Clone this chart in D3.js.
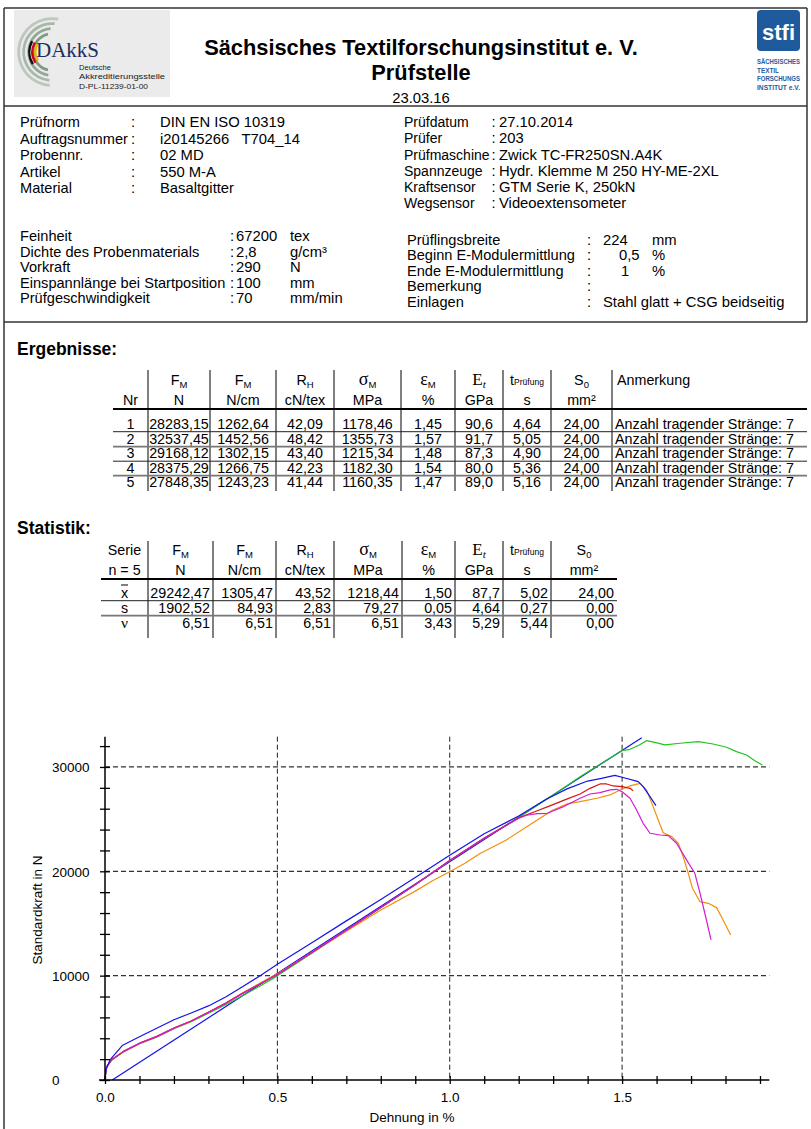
<!DOCTYPE html>
<html><head><meta charset="utf-8">
<script src="https://cdn.jsdelivr.net/npm/d3@7"></script>
<style>
body{margin:0;background:#fff}
svg{display:block}
text{font-family:"Liberation Sans",Arial,Helvetica,sans-serif;fill:#000}
</style>
</head><body>
<svg id="c" width="811" height="1129"></svg>
<script>
// ---------------- DATA ----------------
const infoLeft1Labels = ["Prüfnorm","Auftragsnummer","Probennr.","Artikel","Material"];
const infoLeft1Values = ["DIN EN ISO 10319","i20145266\u00a0\u00a0\u00a0T704_14","02 MD","550 M-A","Basaltgitter"];
const infoLeft2Labels = ["Feinheit","Dichte des Probenmaterials","Vorkraft","Einspannlänge bei Startposition","Prüfgeschwindigkeit"];
const infoLeft2Values = ["67200","2,8","290","100","70"];
const infoLeft2Units = ["tex","g/cm³","N","mm","mm/min"];
const infoRight1Labels = ["Prüfdatum","Prüfer","Prüfmaschine","Spannzeuge","Kraftsensor","Wegsensor"];
const infoRight1Values = ["27.10.2014","203","Zwick TC-FR250SN.A4K","Hydr. Klemme M 250 HY-ME-2XL","GTM Serie K, 250kN","Videoextensometer"];
const infoRight2Labels = ["Prüflingsbreite","Beginn E-Modulermittlung","Ende E-Modulermittlung","Bemerkung","Einlagen"];
const infoRight2Values = ["224","0,5","1","","Stahl glatt + CSG beidseitig"];
const infoRight2Units = ["mm","%","%","",""];

// Results table
const resHeadMain = ["","F","F","R","σ","ε","E","t","S",""];
const resHeadSub  = ["","M","M","H","M","M","t","Prüfung","0",""];
const resUnits    = ["Nr","N","N/cm","cN/tex","MPa","%","GPa","s","mm²",""];
const resNr     = ["1","2","3","4","5"];
const resFmN    = ["28283,15","32537,45","29168,12","28375,29","27848,35"];
const resFmNcm  = ["1262,64","1452,56","1302,15","1266,75","1243,23"];
const resRh     = ["42,09","48,42","43,40","42,23","41,44"];
const resSigma  = ["1178,46","1355,73","1215,34","1182,30","1160,35"];
const resEps    = ["1,45","1,57","1,48","1,54","1,47"];
const resE      = ["90,6","91,7","87,3","80,0","89,0"];
const resT      = ["4,64","5,05","4,90","5,36","5,16"];
const resS0     = ["24,00","24,00","24,00","24,00","24,00"];
const resNote   = ["Anzahl tragender Stränge: 7","Anzahl tragender Stränge: 7","Anzahl tragender Stränge: 7","Anzahl tragender Stränge: 7","Anzahl tragender Stränge: 7"];

// Statistics table
const statUnits  = ["n = 5","N","N/cm","cN/tex","MPa","%","GPa","s","mm²"];
const statLabels = ["x","s","ν"];
const statFmN    = ["29242,47","1902,52","6,51"];
const statFmNcm  = ["1305,47","84,93","6,51"];
const statRh     = ["43,52","2,83","6,51"];
const statSigma  = ["1218,44","79,27","6,51"];
const statEps    = ["1,50","0,05","3,43"];
const statE      = ["87,7","4,64","5,29"];
const statT      = ["5,02","0,27","5,44"];
const statS0     = ["24,00","0,00","0,00"];

// Chart ticks
const xTickValues = [0,0.1,0.2,0.3,0.4,0.5,0.6,0.7,0.8,0.9,1.0,1.1,1.2,1.3,1.4,1.5,1.6,1.7,1.8,1.9];
const xTickLabels = ["0.0","","","","","0.5","","","","","1.0","","","","","1.5","","","",""];
const yTickValues = [0,2000,4000,6000,8000,10000,12000,14000,16000,18000,20000,22000,24000,26000,28000,30000,32000];
const yTickLabels = ["0","","","","","10000","","","","","20000","","","","","30000",""];
const xGrid = [0.5,1.0,1.5];
const yGrid = [10000,20000,30000];

// Curves (strain in %, force in N)
const redStrain = [0,0.002,0.005,0.019,0.053,0.1,0.15,0.2,0.25,0.3,0.35,0.4,0.45,0.5,0.6,0.7,0.8,0.9,1.0,1.1,1.2,1.25,1.283,1.343,1.378,1.407,1.436,1.455,1.474,1.5,1.523,1.532];
const redForce  = [0,720,1290,1940,2740,3530,4180,4990,5660,6500,7380,8330,9200,10120,12230,14380,16540,18740,21040,23180,25120,25750,26170,26970,27410,27950,28370,28370,28180,28110,27950,27730];

const greenStrain = [0,0.002,0.005,0.019,0.053,0.1,0.15,0.2,0.25,0.3,0.35,0.4,0.45,0.5,0.6,0.7,0.8,0.9,1.0,1.1,1.2,1.25,1.3,1.378,1.45,1.5,1.523,1.55,1.571,1.595,1.624,1.668,1.721,1.764,1.803,1.832,1.861,1.885,1.907];
const greenForce  = [0,680,1250,1890,2690,3480,4110,4920,5580,6400,7220,8100,9000,9980,12150,14330,16500,18720,21000,23150,25150,26250,27320,29070,30550,31560,31690,32100,32520,32350,32110,32270,32430,32200,31890,31470,31150,30600,30190];

const blueStrain = [0,0.003,0.0145,0.05,0.1,0.15,0.2,0.25,0.3,0.35,0.4,0.45,0.5,0.6,0.7,0.8,0.9,1.0,1.1,1.2,1.28,1.34,1.4,1.44,1.479,1.5,1.547,1.561,1.581,1.598];
const blueForce  = [0,1000,1920,3300,4150,4955,5780,6420,7100,7950,8950,10000,11100,13150,15250,17300,19400,21550,23600,25300,26900,27900,28650,28900,29200,29010,28600,28120,27160,26290];

const orangeStrain = [0,0.002,0.005,0.019,0.053,0.1,0.15,0.2,0.25,0.3,0.35,0.4,0.45,0.5,0.6,0.7,0.8,0.9,0.95,1.0,1.043,1.088,1.163,1.238,1.298,1.343,1.378,1.427,1.465,1.494,1.523,1.552,1.571,1.59,1.605,1.619,1.644,1.663,1.677,1.692,1.704,1.726,1.75,1.774,1.793,1.815];
const orangeForce  = [0,700,1270,1910,2700,3500,4150,4960,5640,6480,7360,8350,9300,10180,12200,14250,16300,18100,19100,19950,20750,21700,22980,24580,25850,26490,26680,27000,27320,27800,28180,28430,27800,26200,24920,23700,23320,22690,21410,19810,18380,17090,16930,16520,15340,13900];

const magentaStrain = [0,0.002,0.005,0.019,0.053,0.1,0.15,0.2,0.25,0.3,0.35,0.4,0.45,0.5,0.6,0.7,0.8,0.9,1.0,1.1,1.2,1.223,1.253,1.283,1.328,1.378,1.407,1.436,1.465,1.484,1.5,1.523,1.542,1.561,1.581,1.61,1.634,1.658,1.687,1.711,1.726,1.74,1.758];
const magentaForce  = [0,710,1280,1925,2720,3510,4160,4975,5650,6480,7340,8300,9220,10110,12210,14360,16520,18720,21030,23160,25080,25370,25530,25560,26170,27000,27410,27540,27800,27860,27630,27000,25880,24600,23650,23480,23420,22690,21090,19810,17900,15980,13420];

const modLineStrain = [0.021,1.557];
const modLineForce  = [0,32810];

// ---------------- DRAW ----------------
const svg = d3.select("#c");
const frameCol = "#333";
function hline(x1,x2,yy,col,w){ svg.append("line").attr("x1",x1).attr("x2",x2).attr("y1",yy).attr("y2",yy).attr("stroke",col).attr("stroke-width",w); }
function vline(xx,y1,y2,col,w){ svg.append("line").attr("x1",xx).attr("x2",xx).attr("y1",y1).attr("y2",y2).attr("stroke",col).attr("stroke-width",w); }

hline(4,807,8,frameCol,1.5);
hline(4,807,106,frameCol,1.5);
hline(4,807,322,frameCol,1.5);
vline(4,8,1129,frameCol,1.5);
vline(807,8,322,frameCol,1.5);

// DAkkS logo
const lg = svg.append("g");
lg.append("rect").attr("x",14).attr("y",10).attr("width",156).attr("height",87).attr("fill","#ebebeb");
const arc = d3.arc();
[[17,"#7f9a84",-0.93,-0.07],[22,"#93a897",-0.95,-0.02],[27,"#a7b7aa",-0.97,0.03],[32,"#bcc8be",-0.98,0.06]].forEach(([r,c,a0,a1])=>{
  lg.append("path").attr("transform","translate(52,52)")
    .attr("d",arc({innerRadius:r,outerRadius:r+2.8,startAngle:Math.PI*a0,endAngle:Math.PI*a1}))
    .attr("fill",c);
});
[["#111",0],["#d0021b",1],["#f0b400",2]].forEach(([c,i])=>{
  lg.append("path").attr("transform","translate(52,52)")
    .attr("d",arc({innerRadius:21.5-i*3,outerRadius:23.8-i*3,startAngle:-Math.PI*0.68,endAngle:-Math.PI*0.34}))
    .attr("fill",c);
});
lg.append("text").attr("x",36).attr("y",57).attr("font-size",21)
  .style("font-family","'Liberation Serif','DejaVu Serif',serif").style("fill","#1f2d5c").text("DAkkS");
lg.append("text").attr("x",79).attr("y",69.5).attr("font-size",8).attr("textLength",32).attr("lengthAdjust","spacingAndGlyphs").style("fill","#222").text("Deutsche");
lg.append("text").attr("x",79).attr("y",79).attr("font-size",8).attr("textLength",86).attr("lengthAdjust","spacingAndGlyphs").style("fill","#222").text("Akkreditierungsstelle");
lg.append("text").attr("x",79).attr("y",88.5).attr("font-size",8).attr("textLength",69).attr("lengthAdjust","spacingAndGlyphs").style("fill","#222").text("D-PL-11239-01-00");

// stfi logo
const sg = svg.append("g");
sg.append("rect").attr("x",757).attr("y",10).attr("width",43).attr("height",41).attr("rx",4).attr("fill","#1f5a9c");
sg.append("text").attr("x",778.5).attr("y",40).attr("text-anchor","middle").attr("font-size",22).attr("font-weight","bold").style("fill","#fff").text("stfi");
[["SÄCHSISCHES",43],["TEXTIL",22],["FORSCHUNGS",43],["INSTITUT e.V.",43]].forEach(([t,w],i)=>{
  sg.append("text").attr("x",757).attr("y",64+i*8.6).attr("font-size",7.4).attr("font-weight","bold")
    .attr("textLength",w).attr("lengthAdjust","spacingAndGlyphs").style("fill","#1f5a9c").text(t);
});

// Header titles
svg.append("text").attr("x",421).attr("y",55).attr("text-anchor","middle").attr("font-size",21.8).attr("font-weight","bold").text("Sächsisches Textilforschungsinstitut e. V.");
svg.append("text").attr("x",421).attr("y",80).attr("text-anchor","middle").attr("font-size",21.8).attr("font-weight","bold").text("Prüfstelle");
svg.append("text").attr("x",421).attr("y",102.5).attr("text-anchor","middle").attr("font-size",14.8).text("23.03.16");

// Info blocks
function infoBlock(labels, values, units, xL, xC, xV, xU, ys, fsL, fsV){
  labels.forEach((l,i)=>{
    const yy = ys[i];
    svg.append("text").attr("x",xL).attr("y",yy).attr("font-size",fsL).text(l);
    svg.append("text").attr("x",xC).attr("y",yy).attr("font-size",fsV).text(":");
    if(values[i]!=="") svg.append("text").attr("x",Array.isArray(xV)?xV[i]:xV).attr("y",yy).attr("font-size",fsV).text(values[i]);
    if(units && units[i]) svg.append("text").attr("x",xU).attr("y",yy).attr("font-size",fsV).text(units[i]);
  });
}
infoBlock(infoLeft1Labels, infoLeft1Values, null, 20, 131, 160, 0, [127,143.5,160,176.5,193], 14.6, 14.8);
infoBlock(infoLeft2Labels, infoLeft2Values, infoLeft2Units, 20, 230, 236, 290, [241,256.5,272,287.5,303], 14.6, 14.8);
infoBlock(infoRight1Labels, infoRight1Values, null, 404, 491.5, 499, 0, [127,143,159.5,175.5,191.5,207.5], 14, 14.8);
infoBlock(infoRight2Labels, infoRight2Values, infoRight2Units, 407, 587, [603,619,621,0,603], 652, [244.5,260,275.5,291,307], 14.6, 14.8);

// Section titles
svg.append("text").attr("x",17).attr("y",355).attr("font-size",17.5).attr("font-weight","bold").text("Ergebnisse:");
svg.append("text").attr("x",17).attr("y",534).attr("font-size",17.5).attr("font-weight","bold").text("Statistik:");

const TFS = 14.3;
function headCell(g, cx, yy, main, sub, idx){
  const t = g.append("text").attr("x",cx).attr("y",yy).attr("text-anchor","middle").attr("font-size",TFS);
  const m = t.append("tspan").text(main);
  if(idx===4 || idx===5) m.style("font-family","'Liberation Serif','DejaVu Serif',serif").attr("font-size",18);
  if(idx===6) m.style("font-family","'Liberation Serif','DejaVu Serif',serif").attr("font-size",17);
  if(sub){
    const s = t.append("tspan").attr("font-size", idx===7?8.5:9.5).attr("dy",idx===7?0:2.5).text(sub);
    if(idx===6) s.style("font-family","'Liberation Serif',serif").style("font-style","italic").attr("font-size",11);
  }
}

// Results table
const resEdges = [113,148,210,276,334,401,455,503,551,612,807];
const resCols = [resNr,resFmN,resFmNcm,resRh,resSigma,resEps,resE,resT,resS0,resNote];
const rg = svg.append("g");
for(let c=0;c<resHeadMain.length;c++){
  const cx=(resEdges[c]+resEdges[c+1])/2;
  if(c===9){
    rg.append("text").attr("x",617).attr("y",385).attr("font-size",TFS).text("Anmerkung");
  } else if(resHeadMain[c]) headCell(rg,cx,385,resHeadMain[c],resHeadSub[c],c);
  if(resUnits[c]) rg.append("text").attr("x",cx).attr("y",404.5).attr("text-anchor","middle").attr("font-size",TFS).text(resUnits[c]);
}
for(let c=1;c<resEdges.length-1;c++){
  rg.append("line").attr("x1",resEdges[c]).attr("x2",resEdges[c]).attr("y1",370).attr("y2",491).attr("stroke","#000").attr("stroke-width",1);
}
rg.append("line").attr("x1",113).attr("x2",807).attr("y1",409).attr("y2",409).attr("stroke","#000").attr("stroke-width",2);
const resRowY = [428.5,443.5,458,472.5,487];
resRowY.forEach((yy,r)=>{
  resCols.forEach((col,c)=>{
    const cx=(resEdges[c]+resEdges[c+1])/2;
    if(c===9) rg.append("text").attr("x",615).attr("y",yy).attr("font-size",TFS).text(col[r]);
    else rg.append("text").attr("x",cx).attr("y",yy).attr("text-anchor","middle").attr("font-size",TFS).text(col[r]);
  });
  if(r<4) rg.append("line").attr("x1",113).attr("x2",807).attr("y1",yy+3.2).attr("y2",yy+3.2)
     .attr("stroke", r%2===0?"#222":"#777").attr("stroke-width", r%2===0?1:1.7);
});

// Statistics table
const stEdges = [101,148,213,276,334,402,455,503,551,617];
const stCols = [statLabels,statFmN,statFmNcm,statRh,statSigma,statEps,statE,statT,statS0];
const sgt = svg.append("g");
for(let c=0;c<9;c++){
  const cx=(stEdges[c]+stEdges[c+1])/2;
  if(c===0) sgt.append("text").attr("x",cx).attr("y",555).attr("text-anchor","middle").attr("font-size",TFS).text("Serie");
  else headCell(sgt,cx,555,resHeadMain[c],resHeadSub[c],c);
  sgt.append("text").attr("x",cx).attr("y",574.5).attr("text-anchor","middle").attr("font-size",TFS).text(statUnits[c]);
}
for(let c=1;c<stEdges.length-1;c++){
  sgt.append("line").attr("x1",stEdges[c]).attr("x2",stEdges[c]).attr("y1",541).attr("y2",638).attr("stroke","#000").attr("stroke-width",1);
}
sgt.append("line").attr("x1",101).attr("x2",617).attr("y1",579).attr("y2",579).attr("stroke","#000").attr("stroke-width",2);
const stRowY=[597.5,612.5,628];
stRowY.forEach((yy,r)=>{
  stCols.forEach((col,c)=>{
    if(c===0){
      const cx=(stEdges[0]+stEdges[1])/2;
      const t=sgt.append("text").attr("x",cx).attr("y",yy).attr("text-anchor","middle").attr("font-size",TFS).text(col[r]);
      if(r===2) t.style("font-family","'Liberation Serif',serif").attr("font-size",15.5);
      if(r===0) sgt.append("line").attr("x1",cx-3.5).attr("x2",cx+3.5).attr("y1",yy-12.5).attr("y2",yy-12.5).attr("stroke","#000").attr("stroke-width",1);
    } else {
      sgt.append("text").attr("x",stEdges[c+1]-3).attr("y",yy).attr("text-anchor","end").attr("font-size",TFS).text(col[r]);
    }
  });
  if(r<2) sgt.append("line").attr("x1",101).attr("x2",617).attr("y1",yy+3.2).attr("y2",yy+3.2)
     .attr("stroke", r===0?"#222":"#777").attr("stroke-width", r===0?1:1.7);
});

// ---------------- CHART ----------------
const x = d3.scaleLinear().domain([0,1.927]).range([105,769.3]);
const y = d3.scaleLinear().domain([0,32900]).range([1080,736.7]);
const cg = svg.append("g");

cg.selectAll(".vg").data(xGrid).join("line")
  .attr("x1",d=>x(d)).attr("x2",d=>x(d)).attr("y1",y(32900)).attr("y2",y(0))
  .attr("stroke","#222").attr("stroke-width",1).attr("stroke-dasharray","5,3");
cg.selectAll(".hg").data(yGrid).join("line")
  .attr("x1",x(0)).attr("x2",x(1.927)).attr("y1",d=>y(d)).attr("y2",d=>y(d))
  .attr("stroke","#333").attr("stroke-width",1.2).attr("stroke-dasharray","5,3");

const line = d3.line().x(d=>x(d[0])).y(d=>y(d[1]));
const curves = [
  [modLineStrain, modLineForce, "#1414e6"],
  [greenStrain, greenForce, "#22c322"],
  [orangeStrain, orangeForce, "#f0900a"],
  [redStrain, redForce, "#d41616"],
  [magentaStrain, magentaForce, "#d21cd2"],
  [blueStrain, blueForce, "#1414e6"]
];
curves.forEach(([s,f,col])=>{
  cg.append("path").attr("d", line(s.map((v,i)=>[v,f[i]])))
    .attr("fill","none").attr("stroke",col).attr("stroke-width",1.2).attr("stroke-linejoin","round");
});

const xAxis = cg.append("g").attr("transform","translate(0,1080)")
  .call(d3.axisBottom(x).tickValues(xTickValues).tickSize(4).tickFormat((d,i)=>xTickLabels[i]));
xAxis.select(".domain").remove();
xAxis.selectAll(".tick line").attr("y1",-4).attr("y2",4).attr("stroke","#000").attr("stroke-width",1.3);
xAxis.selectAll(".tick text").attr("y",22).attr("dy",0).attr("font-size",13.5).style("font-family","'Liberation Sans',Arial,sans-serif");
cg.append("line").attr("x1",99).attr("x2",769.3).attr("y1",1080).attr("y2",1080).attr("stroke","#000").attr("stroke-width",1.5);

const yAxis = cg.append("g").attr("transform","translate(105,0)")
  .call(d3.axisLeft(y).tickValues(yTickValues).tickSize(5).tickFormat((d,i)=>yTickLabels[i]));
yAxis.select(".domain").remove();
yAxis.selectAll(".tick line").attr("x1",-5).attr("x2",5).attr("stroke","#000").attr("stroke-width",1.3);
yAxis.selectAll(".tick text").attr("x",-53).attr("text-anchor","start").attr("dy","0.35em").attr("font-size",13.5).style("font-family","'Liberation Sans',Arial,sans-serif");
cg.append("line").attr("x1",105).attr("x2",105).attr("y1",736.7).attr("y2",1080).attr("stroke","#000").attr("stroke-width",1.5);

cg.append("text").attr("x",412).attr("y",1122).attr("text-anchor","middle").attr("font-size",13.5).text("Dehnung in %");
cg.append("text").attr("transform","translate(42,910) rotate(-90)").attr("text-anchor","middle").attr("font-size",13.5).text("Standardkraft in N");
</script>
</body></html>
